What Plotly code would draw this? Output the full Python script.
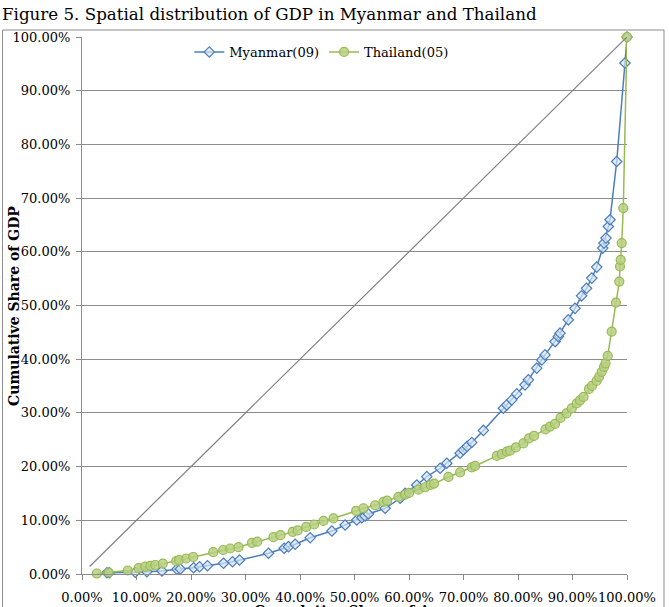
import plotly.graph_objects as go

# Cumulative share of area (%) and cumulative share of GDP (%)
myanmar_area = [4.58, 5.01, 9.77, 11.92, 14.67, 17.42, 18.03, 20.47, 21.57, 23.03,
                25.97, 27.62, 28.90, 34.22, 37.10, 37.89, 39.12, 41.87, 45.85, 48.28,
                50.43, 51.35, 51.95, 52.56, 55.62, 58.37, 59.29, 61.43, 63.27, 65.71,
                66.94, 69.37, 69.98, 70.66, 71.52, 73.65, 77.31, 77.94, 78.86, 79.77,
                81.29, 81.90, 83.44, 84.36, 84.96, 86.80, 87.40, 87.71, 89.23, 90.46,
                91.66, 92.57, 93.53, 94.44, 95.54, 95.78, 96.15, 96.57, 96.88, 98.11,
                99.63, 100.0]
myanmar_gdp = [0.24, 0.24, 0.32, 0.43, 0.56, 0.88, 0.93, 1.17, 1.36, 1.55,
               1.99, 2.29, 2.61, 3.86, 4.79, 5.09, 5.53, 6.76, 8.01, 9.13,
               10.06, 10.49, 10.81, 11.18, 12.24, 14.10, 15.04, 16.58, 18.13, 19.69,
               20.63, 22.49, 23.10, 23.76, 24.50, 26.74, 30.87, 31.49, 32.42, 33.54,
               35.22, 36.15, 38.33, 39.87, 40.80, 43.28, 44.21, 44.85, 47.33, 49.47,
               51.80, 53.20, 55.10, 57.15, 60.69, 61.62, 62.55, 64.71, 65.96, 76.82,
               95.16, 100.0]

thailand_area = [2.71, 4.88, 8.40, 10.38, 11.61, 12.53, 13.44, 14.82, 17.29, 17.84,
                 19.13, 20.41, 24.08, 25.91, 27.20, 28.72, 31.18, 32.15, 35.14, 36.42,
                 38.66, 39.57, 41.13, 42.60, 44.31, 46.14, 50.30, 51.64, 53.79, 55.31,
                 55.99, 58.06, 59.29, 60.02, 61.73, 62.96, 63.97, 64.61, 67.23, 69.37,
                 71.52, 72.13, 76.11, 77.02, 77.94, 78.54, 79.61, 80.98, 82.03, 82.94,
                 85.05, 85.88, 86.80, 87.80, 88.90, 89.86, 90.78, 91.38, 92.02, 93.03,
                 93.58, 94.41, 94.87, 95.36, 95.78, 96.06, 96.46, 97.19, 97.98, 98.59,
                 98.72, 98.84, 99.03, 99.32, 100.0]
thailand_gdp = [0.09, 0.28, 0.65, 1.08, 1.36, 1.53, 1.68, 1.92, 2.38, 2.61,
                2.89, 3.17, 4.06, 4.47, 4.75, 4.99, 5.78, 6.02, 6.86, 7.23,
                7.83, 8.11, 8.76, 9.22, 9.88, 10.34, 11.74, 12.24, 12.80, 13.42,
                13.66, 14.35, 14.78, 15.09, 15.71, 16.15, 16.58, 16.83, 18.07, 18.91,
                19.84, 20.12, 21.99, 22.32, 22.79, 22.97, 23.57, 24.32, 25.25, 25.71,
                26.92, 27.45, 27.95, 29.07, 29.90, 30.84, 31.77, 32.33, 32.98, 34.47,
                35.03, 35.96, 36.71, 37.64, 38.57, 39.22, 40.62, 45.15, 50.55, 54.46,
                57.26, 58.51, 61.62, 68.14, 100.0]

equality_x = [1.4, 100.0]
equality_y = [1.4, 100.0]

x_ticks = [0, 10, 20, 30, 40, 50, 60, 70, 80, 90, 100]
tick_text = [f"{v:.2f}%" for v in x_ticks]

FONT = "DejaVu Serif"
GRID = "#8c8c8c"

fig = go.Figure()
fig.add_trace(go.Scatter(
    x=myanmar_area, y=myanmar_gdp, name="Myanmar(09)", mode="lines+markers",
    line=dict(color="#4A7EBB", width=1.5),
    marker=dict(symbol="diamond", size=8, color="rgba(215,228,245,0.7)",
                line=dict(color="#4A7EBB", width=1.2)),
    cliponaxis=False))
fig.add_trace(go.Scatter(
    x=thailand_area, y=thailand_gdp, name="Thailand(05)", mode="lines+markers",
    line=dict(color="#98B954", width=1.5),
    marker=dict(symbol="circle", size=9, color="rgba(185,208,130,0.85)",
                line=dict(color="#98B954", width=1.2)),
    cliponaxis=False))
fig.add_trace(go.Scatter(
    x=equality_x, y=equality_y, mode="lines", showlegend=False,
    line=dict(color="#7f7f7f", width=1.2), cliponaxis=False))

fig.update_layout(
    width=669, height=607,
    margin=dict(l=82, r=42, t=37, b=33),
    paper_bgcolor="white", plot_bgcolor="white",
    font=dict(family=FONT, size=13, color="#000000"),
    showlegend=True,
    legend=dict(orientation="h", x=0.44, xanchor="center", y=1.0, yanchor="top",
                font=dict(family=FONT, size=13), bgcolor="rgba(0,0,0,0)",
                itemwidth=30, traceorder="normal"),
    xaxis=dict(range=[0, 100], tickvals=x_ticks, ticktext=tick_text,
               showgrid=False, zeroline=False, showline=True, linecolor=GRID,
               linewidth=1, ticks="outside", ticklen=5, tickcolor=GRID,
               tickangle=0, automargin=False, ticklabelstandoff=6,
               tickfont=dict(family=FONT, size=13)),
    yaxis=dict(range=[0, 100], tickvals=x_ticks, ticktext=tick_text,
               showgrid=True, gridcolor=GRID, gridwidth=1, zeroline=False,
               showline=True, linecolor=GRID, linewidth=1, ticks="outside",
               ticklen=5, tickcolor=GRID, automargin=False, ticklabelstandoff=3,
               tickfont=dict(family=FONT, size=13)),
    annotations=[
        dict(text="Figure 5. Spatial distribution of GDP in Myanmar and Thailand",
             xref="paper", yref="paper", x=-0.1505, y=1.043, xanchor="left",
             yanchor="middle", showarrow=False, font=dict(family=FONT, size=16.7)),
        dict(text="<b>Cumulative Share of Area</b>", xref="paper", yref="paper",
             x=0.5, y=-0.05, xanchor="center", yanchor="top", showarrow=False,
             font=dict(family=FONT, size=14)),
        dict(text="<b>Cumulative Share of GDP</b>", xref="paper", yref="paper",
             x=-0.125, y=0.499, xanchor="center", yanchor="middle", textangle=-90,
             showarrow=False, font=dict(family=FONT, size=14)),
    ],
    shapes=[dict(type="rect", xref="paper", yref="paper", x0=-0.1459, x1=1.0679,
                 y0=-0.075, y1=1.013, line=dict(color="#8c8c8c", width=1),
                 fillcolor="rgba(0,0,0,0)", layer="below")],
)

fig.write_html("out.html")
